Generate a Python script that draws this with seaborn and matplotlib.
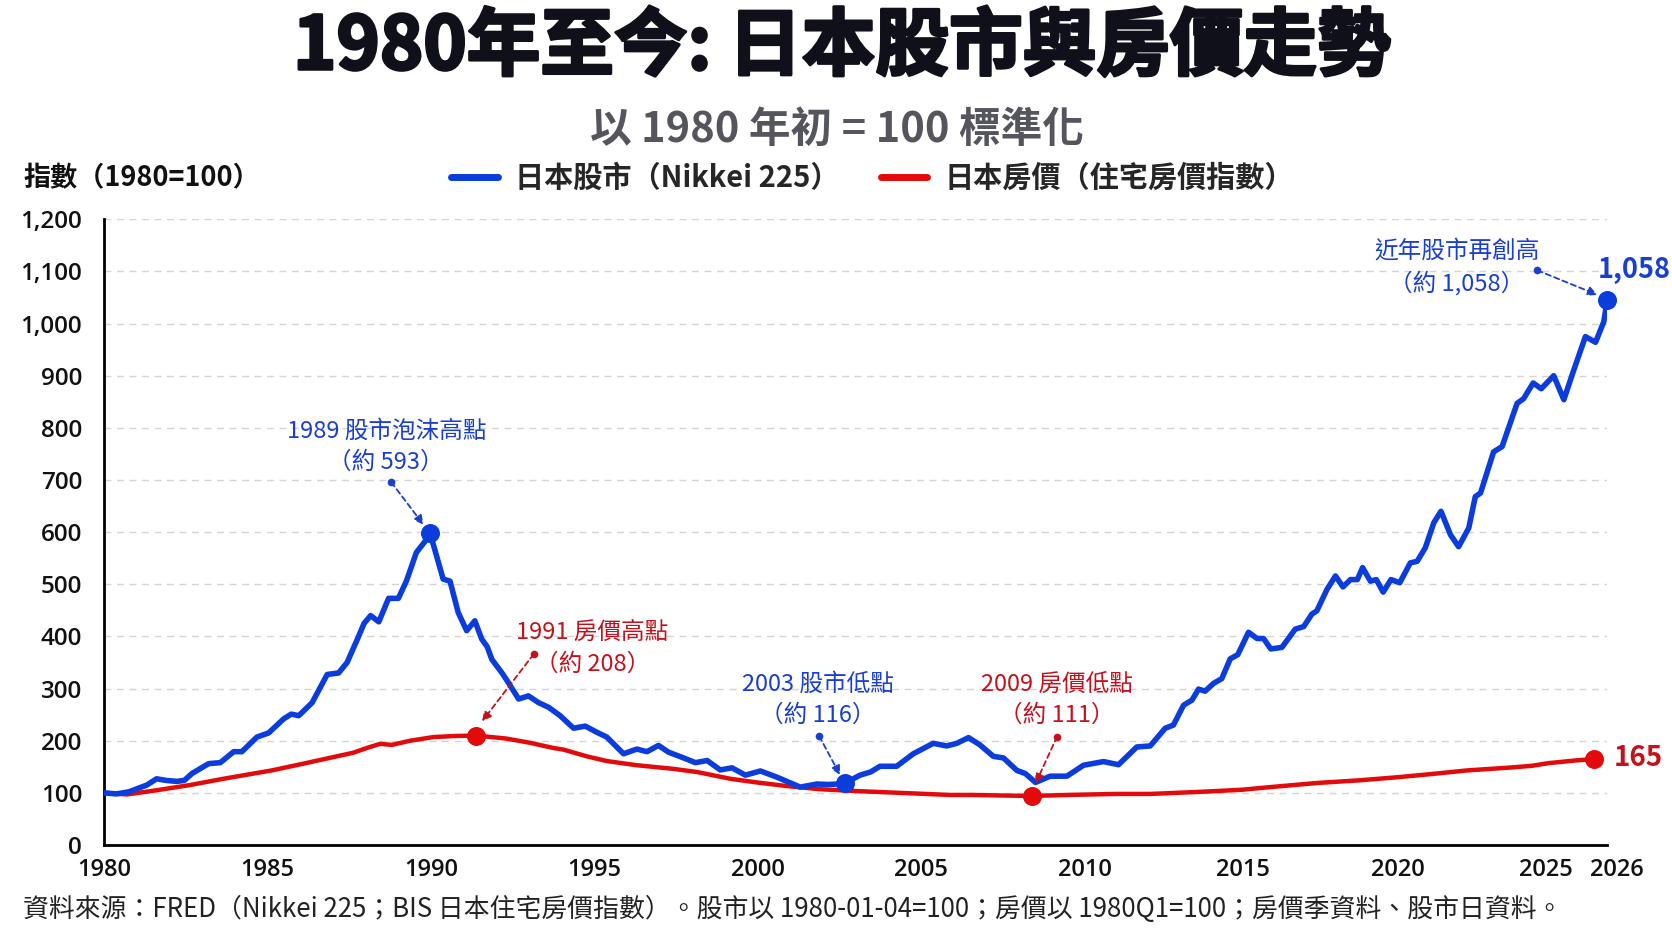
import numpy as np
import pandas as pd
import matplotlib.pyplot as plt
import matplotlib.ticker as mticker
import matplotlib.transforms as mtrans
import matplotlib.patheffects as pe
import seaborn as sns

# Nikkei 225 (1980 start = 100)
nikkei_years = [1980.00, 1980.37, 1980.75, 1981.00, 1981.30, 1981.60, 1981.87, 1982.22, 1982.45, 1982.68,
                1983.19, 1983.55, 1983.96, 1984.21, 1984.67, 1985.03, 1985.49, 1985.72, 1985.95, 1986.36,
                1986.82, 1987.17, 1987.43, 1987.74, 1987.95, 1988.15, 1988.40, 1988.70, 1989.00, 1989.25,
                1989.55, 1989.80, 1989.97, 1990.37, 1990.58, 1990.83, 1991.09, 1991.34, 1991.55, 1991.72,
                1991.86, 1992.17, 1992.33, 1992.68, 1992.98, 1993.29, 1993.60, 1993.95, 1994.36, 1994.72,
                1995.08, 1995.38, 1995.89, 1996.30, 1996.61, 1996.96, 1997.27, 1997.73, 1998.09, 1998.45,
                1998.85, 1999.21, 1999.62, 2000.08, 2000.59, 2000.89, 2001.30, 2001.81, 2002.16, 2002.45,
                2002.68, 2003.13, 2003.45, 2003.74, 2004.25, 2004.76, 2005.37, 2005.78, 2006.09, 2006.45,
                2006.80, 2007.21, 2007.52, 2007.93, 2008.19, 2008.50, 2008.95, 2009.46, 2009.97, 2010.58,
                2011.04, 2011.60, 2012.01, 2012.47, 2012.72, 2013.03, 2013.29, 2013.49, 2013.69, 2013.95,
                2014.20, 2014.46, 2014.69, 2015.02, 2015.28, 2015.48, 2015.70, 2016.04, 2016.45, 2016.71,
                2016.96, 2017.11, 2017.42, 2017.68, 2017.91, 2018.14, 2018.35, 2018.51, 2018.75, 2018.93,
                2019.14, 2019.38, 2019.65, 2019.97, 2020.18, 2020.43, 2020.69, 2020.91, 2021.20, 2021.45,
                2021.76, 2021.96, 2022.12, 2022.52, 2022.78, 2023.24, 2023.44, 2023.73, 2023.98, 2024.36,
                2024.67, 2024.97, 2025.33, 2025.64, 2025.89, 2026.00]
nikkei_vals = [100, 98, 102, 108, 115, 127, 124, 122, 124, 137,
               156, 158, 179, 179, 207, 215, 242, 251, 248, 273,
               327, 330, 350, 394, 425, 440, 428, 473, 473, 507,
               561, 581, 598, 510, 506, 446, 411, 430, 395, 380,
               356, 330, 315, 280, 286, 273, 264, 248, 224, 228,
               216, 207, 175, 184, 179, 191, 178, 167, 158, 162,
               144, 148, 134, 142, 130, 122, 111, 117, 116, 117,
               119, 134, 140, 151, 151, 175, 195, 190, 195, 206,
               192, 170, 167, 143, 137, 120, 132, 132, 153, 160,
               154, 188, 190, 224, 230, 268, 278, 299, 295, 310,
               319, 357, 365, 408, 396, 396, 376, 379, 414, 419,
               443, 449, 490, 516, 495, 509, 509, 532, 506, 509,
               485, 509, 503, 541, 544, 570, 618, 640, 595, 572,
               608, 668, 675, 754, 764, 847, 856, 886, 875, 900,
               854, 910, 975, 964, 1003, 1045]

# Japan residential property prices (1980Q1 = 100)
house_years = [1980.00, 1980.69, 1981.60, 1982.62, 1983.64, 1985.12, 1986.09, 1987.11, 1987.62, 1988.03,
               1988.44, 1988.80, 1989.36, 1990.07, 1990.69, 1991.38, 1992.32, 1993.03, 1993.75, 1994.05,
               1994.77, 1995.38, 1996.30, 1997.42, 1998.14, 1999.16, 1999.97, 2000.89, 2001.91, 2002.82,
               2004.35, 2005.88, 2006.60, 2007.42, 2008.40, 2009.46, 2010.99, 2012.01, 2013.55, 2014.82,
               2015.50, 2017.12, 2018.40, 2019.58, 2020.60, 2021.70, 2023.13, 2023.70, 2024.20, 2025.00,
               2025.59]
house_vals = [100, 97, 105, 115, 127, 143, 156, 170, 177, 186,
              194, 192, 200, 207, 209, 210, 204, 196, 186, 183,
              170, 161, 153, 146, 140, 127, 120, 113, 107, 104,
              100, 96, 96, 95, 94, 96, 98, 98, 102, 106,
              110, 119, 124, 130, 136, 143, 149, 152, 157, 162,
              165]

# highlighted points
nikkei_pts_x = [1989.97, 2002.68, 2026.00]
nikkei_pts_y = [598, 119, 1045]
house_pts_x = [1991.38, 2008.40, 2025.59]
house_pts_y = [210, 94, 165]

# the source chart's year ticks are not evenly spaced near the end; keep them where they sit
x_tick_pos = [1980, 1985, 1990, 1995, 2000, 2005, 2010, 2014.85, 2019.6, 2024.2, 2026]
x_tick_labels = ['1980', '1985', '1990', '1995', '2000', '2005', '2010', '2015', '2020', '2025', '2026']
y_ticks = list(range(0, 1201, 100))

sns.set_theme(style='white')
plt.rcParams['font.family'] = ['Noto Sans CJK TC', 'DejaVu Sans']

BLUE = '#0b3cdc'
BLUE_TXT = '#1a3fcc'
RED = '#e20a0a'
RED_TXT = '#c4121c'

fig = plt.figure(figsize=(16.72, 9.41), dpi=100)
ax = fig.add_axes([0.0624, 0.102, 0.9613 - 0.0624, 0.767 - 0.102])

nk = pd.DataFrame({'year': nikkei_years, 'index': nikkei_vals})
hp = pd.DataFrame({'year': house_years, 'index': house_vals})
sns.lineplot(data=hp, x='year', y='index', color=RED, lw=3.2, estimator=None,
             label='日本房價（住宅房價指數）', ax=ax, zorder=3)
sns.lineplot(data=nk, x='year', y='index', color=BLUE, lw=4.0, estimator=None,
             label='日本股市（Nikkei 225）', ax=ax, zorder=4)
ax.scatter(nikkei_pts_x, nikkei_pts_y, s=160, color=BLUE, zorder=6, clip_on=False)
ax.scatter(house_pts_x, house_pts_y, s=160, color=RED, zorder=6, clip_on=False)

ax.set_xlim(1980, 2026)
ax.set_ylim(0, 1200)
ax.set_xticks(x_tick_pos)
ax.set_xticklabels(x_tick_labels)
ax.set_yticks(y_ticks)
ax.yaxis.set_major_formatter(mticker.FuncFormatter(lambda v, p: f'{v:,.0f}'))
ax.set_xlabel('')
ax.set_ylabel('')
ax.yaxis.grid(True, linestyle=(0, (5, 4)), color='#d4d4d4', lw=1)
for s in ['top', 'right']:
    ax.spines[s].set_visible(False)
for s in ['left', 'bottom']:
    ax.spines[s].set_color('black')
    ax.spines[s].set_linewidth(2)
ax.tick_params(axis='x', direction='inout', length=14, width=1.6, labelsize=17, pad=2)
ax.tick_params(axis='y', direction='out', length=7, width=1.6, labelsize=17.5, pad=9)
for lab in ax.get_xticklabels() + ax.get_yticklabels():
    lab.set_family(['Open Sans', 'DejaVu Sans'])
    lab.set_fontweight('semibold')
    lab.set_color('#111111')

# nudge the two crowded labels at the right end apart
xl = ax.get_xticklabels()
xl[-2].set_transform(xl[-2].get_transform() + mtrans.ScaledTranslation(-0.03, 0, fig.dpi_scale_trans))
xl[-1].set_transform(xl[-1].get_transform() + mtrans.ScaledTranslation(0.10, 0, fig.dpi_scale_trans))


def note(x, y1, y2, l1, l2, color):
    ax.text(x, y1, l1, color=color, fontsize=17, ha='center', va='center', zorder=7)
    ax.text(x, y2, l2, color=color, fontsize=17, ha='center', va='center', zorder=7)


def arrow(x0, y0, x1, y1, color):
    ax.plot([x0], [y0], 'o', ms=4.5, color=color, zorder=7)
    ax.annotate('', xy=(x1, y1), xytext=(x0, y0), zorder=7,
                arrowprops=dict(arrowstyle='-|>', linestyle=(0, (3, 2)), lw=1.3,
                                color=color, mutation_scale=14, shrinkA=0, shrinkB=0))


note(1988.63, 794, 734, '1989 股市泡沫高點', '（約 593）', BLUE_TXT)
arrow(1988.78, 696, 1989.77, 614, BLUE_TXT)
note(1994.93, 407, 347, '1991 房價高點', '（約 208）', RED_TXT)
arrow(1993.14, 366, 1991.56, 237, RED_TXT)
note(2001.85, 308, 248, '2003 股市低點', '（約 116）', BLUE_TXT)
arrow(2001.88, 209, 2002.52, 134, BLUE_TXT)
note(2009.16, 308, 248, '2009 房價低點', '（約 111）', RED_TXT)
arrow(2009.16, 208, 2008.50, 118, RED_TXT)
note(2021.4, 1138, 1078, '近年股市再創高', '（約 1,058）', BLUE_TXT)
arrow(2023.86, 1102, 2025.70, 1055, BLUE_TXT)
ax.text(2025.7, 1103, '1,058', color=BLUE_TXT, fontsize=19.5, fontweight='bold',
        ha='left', va='center', zorder=7, clip_on=False)
ax.text(2026.2, 167, '165', color=RED_TXT, fontsize=20, fontweight='bold',
        ha='left', va='center', zorder=7, clip_on=False)

# legend: stock first
h, l = ax.get_legend_handles_labels()
leg = ax.legend(h[::-1], l[::-1], loc='center', bbox_to_anchor=(0.522, 0.811),
                bbox_transform=fig.transFigure, ncol=2, frameon=False,
                prop={'size': 21, 'weight': 'bold'}, handlelength=1.6,
                handletextpad=0.6, columnspacing=1.4)
for line in leg.get_lines():
    line.set_linewidth(5)

fig.text(0.5036, 0.949, '1980年至今: 日本股市與房價走勢', fontsize=53, fontweight='heavy',
         color='#10101a', ha='center', va='center',
         path_effects=[pe.withStroke(linewidth=2.2, foreground='#10101a')])
fig.text(0.5006, 0.862, '以 1980 年初 = 100 標準化', fontsize=30, fontweight='bold',
         color='#55555e', ha='center', va='center')
fig.text(0.0138, 0.811, '指數（1980=100）', fontsize=19.5, fontweight='bold',
         color='#111111', ha='left', va='center')
fig.text(0.014, 0.0335, '資料來源：FRED（Nikkei 225；BIS 日本住宅房價指數）。股市以 1980-01-04=100；'
         '房價以 1980Q1=100；房價季資料、股市日資料。', fontsize=18.6, color='#222222',
         ha='left', va='center')

fig.savefig('out.png', dpi=100, facecolor='white')
